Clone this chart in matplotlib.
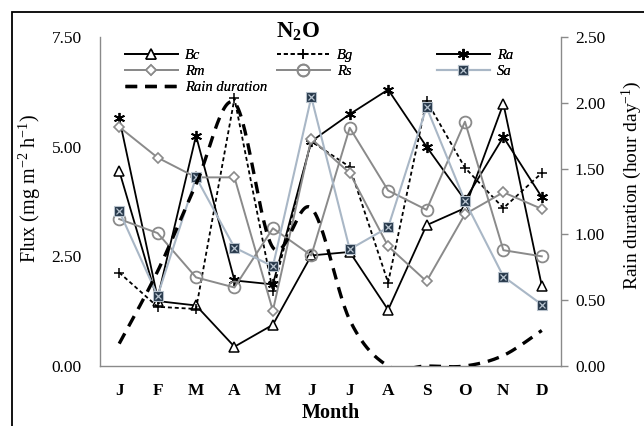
import numpy as np
import matplotlib
matplotlib.use("Agg")
import matplotlib.pyplot as plt
from matplotlib.patches import Rectangle
from matplotlib.legend_handler import HandlerTuple

plt.rcParams['font.family'] = ['Liberation Serif', 'DejaVu Serif']
plt.rcParams['mathtext.fontset'] = 'custom'
plt.rcParams['mathtext.rm'] = 'Liberation Serif'
plt.rcParams['mathtext.it'] = 'Liberation Serif:italic'
plt.rcParams['mathtext.bf'] = 'Liberation Serif:bold'

# data
months = ['J', 'F', 'M', 'A', 'M', 'J', 'J', 'A', 'S', 'O', 'N', 'D']
bc = [4.45, 1.48, 1.38, 0.44, 0.94, 2.52, 2.6, 1.28, 3.21, 3.6, 5.98, 1.83]
bg = [2.13, 1.35, 1.3, 6.1, 1.7, 5.12, 4.54, 1.9, 6.05, 4.52, 3.6, 4.4]
ra = [5.65, 1.55, 5.25, 1.95, 1.86, 5.12, 5.74, 6.3, 5.0, 3.78, 5.22, 3.85]
rm = [5.45, 4.75, 4.3, 4.3, 1.26, 5.18, 4.4, 2.73, 1.93, 3.46, 3.96, 3.58]
rs = [3.35, 3.03, 2.02, 1.79, 3.14, 2.52, 5.43, 4.0, 3.56, 5.57, 2.64, 2.5]
sa = [3.53, 1.6, 4.3, 2.7, 2.27, 6.13, 2.66, 3.16, 5.9, 3.76, 2.04, 1.4]
rain = [0.17, 0.72, 1.38, 2.0, 0.9, 1.2, 0.35, 0.0, 0.0, 0.0, 0.08, 0.27]

x = np.arange(len(months))


def smooth(xs, ys, n=30):
    # excel style smoothed line (catmull-rom bezier)
    p = np.column_stack([xs, ys]).astype(float)
    p = np.vstack([p[0], p, p[-1]])
    out = []
    for i in range(1, len(p) - 2):
        p0, p3 = p[i], p[i + 1]
        c1 = p0 + (p[i + 1] - p[i - 1]) / 6
        c2 = p3 - (p[i + 2] - p[i]) / 6
        t = np.linspace(0, 1, n)[:, None]
        out.append((1-t)**3*p0 + 3*(1-t)**2*t*c1 + 3*(1-t)*t**2*c2 + t**3*p3)
    out = np.vstack(out)
    return out[:, 0], out[:, 1]


fig = plt.figure(figsize=(6.44, 4.26), dpi=100)
ax = fig.add_axes([100/644, 60/426, 461/644, 329/426])
ax2 = ax.twinx()

gray = '#8a8a8a'
steel = '#a9b7c6'

l_bc, = ax.plot(x, bc, '-', color='black', lw=1.3, marker='^', ms=7,
                mfc='white', mec='black', mew=1.1)
l_bg, = ax.plot(x, bg, color='black', lw=1.3, dashes=(2.2, 1.6),
                marker='+', ms=7, mew=1.1)
l_ra, = ax.plot(x, ra, '-', color='black', lw=1.3, marker=(6, 2, 0),
                ms=8, mew=1.3)
l_rm, = ax.plot(x, rm, '-', color=gray, lw=1.4, marker='D', ms=5,
                mfc='white', mec=gray, mew=1.2)
l_rs, = ax.plot(x, rs, '-', color=gray, lw=1.4, marker='o', ms=8.5,
                mfc='none', mec=gray, mew=1.3)
l_sa, = ax.plot(x, sa, '-', color=steel, lw=1.5, marker='s', ms=7,
                mfc='#26384a', mec='#b8c2cc', mew=0.8)
l_sax, = ax.plot(x, sa, ls='none', marker='x', ms=5, mec='#b8c4d0', mew=0.9)

rx, ry = smooth(x, rain)
l_rain, = ax2.plot(rx, ry, color='black', lw=2.4, dashes=(3.5, 2.4))

ax.set_xlim(-0.5, 11.5)
ax.set_ylim(0, 7.5)
ax2.set_ylim(0, 2.5)
ax.set_yticks([0, 2.5, 5, 7.5])
ax.set_yticklabels(['0.00', '2.50', '5.00', '7.50'])
ax2.set_yticks([0, 0.5, 1, 1.5, 2, 2.5])
ax2.set_yticklabels(['0.00', '0.50', '1.00', '1.50', '2.00', '2.50'])
ax.set_xticks(x)
ax.set_xticklabels(months, fontweight='bold', fontsize=12.5)

for a in (ax, ax2):
    a.spines['top'].set_visible(False)
    for s in a.spines.values():
        s.set_color(gray)
        s.set_linewidth(1.0)
ax2.spines['left'].set_visible(False)
ax.spines['right'].set_visible(False)
ax2.spines['bottom'].set_visible(False)

ax.tick_params(axis='y', length=0, pad=13, labelsize=12.5)
ax.tick_params(axis='x', length=0, pad=12)
ax2.tick_params(axis='y', length=5, width=1.0, color=gray, pad=5, labelsize=12.5)

ax.set_ylabel(r'Flux (mg m$^{\mathregular{-2}}$ h$^{\mathregular{-1}}$)', fontsize=14.5)
ax.yaxis.set_label_coords(-0.124, 0.54)
ax2.set_ylabel(r'Rain duration (hour day$^{\mathregular{-1}}$)', fontsize=14)
ax2.yaxis.set_label_coords(1.128, 0.55)
ax.set_xlabel('Month', fontweight='bold', fontsize=14.5)
ax.xaxis.set_label_coords(0.5, -0.112)

fig.text(298/644, 1 - 32/426, r'N$_{\mathbf{2}}$O', fontsize=16.5,
         fontweight='bold', ha='center', va='center')

# legend, three columns placed by hand
lkw = dict(frameon=False, loc='upper left', handlelength=3.6,
           handletextpad=0.5, borderpad=0, borderaxespad=0, labelspacing=0.2,
           prop={'style': 'italic', 'size': 10.5})
hmap = {tuple: HandlerTuple(ndivide=1, pad=0)}
cols = [([l_bc, l_rm, l_rain], ['Bc', 'Rm', 'Rain duration'], 125),
        ([l_bg, l_rs], ['Bg', 'Rs'], 277),
        ([l_ra, (l_sa, l_sax)], ['Ra', 'Sa'], 437)]
for hs, labs, px in cols:
    leg = fig.legend(hs, labs, bbox_to_anchor=(px/644, 1 - 49/426),
                     handler_map=hmap, **lkw)
    fig.add_artist(leg)

# outer frame of the cropped figure
fig.add_artist(Rectangle((12/644, -0.2), 1.2, (426-12)/426 + 0.2,
                         transform=fig.transFigure, fill=False,
                         ec='black', lw=1.3))

fig.savefig('out.png', dpi=100)
